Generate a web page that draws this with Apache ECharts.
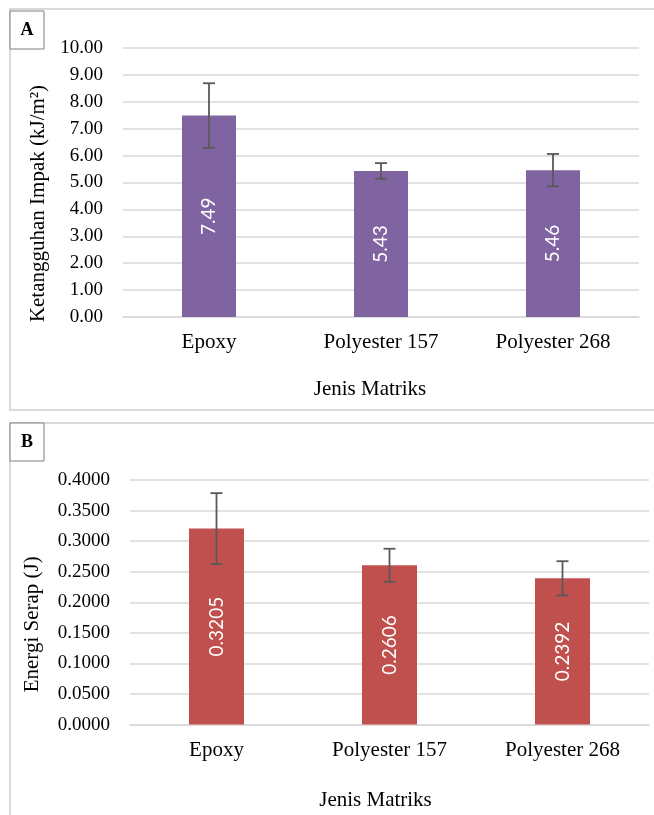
<!DOCTYPE html>
<html><head><meta charset="utf-8">
<script src="https://cdn.jsdelivr.net/npm/echarts@6/dist/echarts.min.js"></script>
<style>html,body{margin:0;padding:0;background:#fff}#c{width:654px;height:815px}</style>
</head><body><div id="c"></div>
<script>
const categories = ['Epoxy', 'Polyester 157', 'Polyester 268'];
const impactValues = [7.49, 5.43, 5.46];
const impactErrors = [1.20, 0.29, 0.60];
const energyValues = [0.3205, 0.2606, 0.2392];
const energyErrors = [0.058, 0.027, 0.028];
const impactTicks = {min: 0, max: 10, interval: 1};
const energyTicks = {min: 0, max: 0.4, interval: 0.05};

const serif = '"Liberation Serif", "Times New Roman", serif';
const chart = echarts.init(document.getElementById('c'));

function errSeries(vals, errs, xi, yi) {
  return {
    type: 'custom', xAxisIndex: xi, yAxisIndex: yi, z: 10,
    data: vals.map((v, i) => [i, v - errs[i], v + errs[i]]),
    renderItem: function (params, api) {
      const lo = api.coord([api.value(0), api.value(1)]);
      const hi = api.coord([api.value(0), api.value(2)]);
      const w = 6;
      const st = {stroke: '#595959', lineWidth: 1.8};
      return {type: 'group', children: [
        {type: 'line', shape: {x1: hi[0], y1: hi[1], x2: lo[0], y2: lo[1]}, style: st},
        {type: 'line', shape: {x1: hi[0] - w, y1: hi[1], x2: hi[0] + w, y2: hi[1]}, style: st},
        {type: 'line', shape: {x1: lo[0] - w, y1: lo[1], x2: lo[0] + w, y2: lo[1]}, style: st}
      ]};
    }
  };
}

const catAxis = (gi, namePad, gap) => ({
  type: 'category', gridIndex: gi, data: categories,
  axisLine: {lineStyle: {color: '#d9d9d9', width: 1.5}}, axisTick: {show: false},
  axisLabel: {color: '#000', fontFamily: serif, fontSize: 21, margin: 15},
  name: 'Jenis Matriks', nameLocation: 'middle', nameGap: gap,
  nameTextStyle: {color: '#000', fontFamily: serif, fontSize: 21, padding: namePad}
});

const dataLabel = (digits) => ({show: true, position: 'inside', rotate: 90, color: '#fff', fontSize: 19,
  fontFamily: 'Lato, "Open Sans", sans-serif', formatter: p => p.value.toFixed(digits)});

chart.setOption({
  animation: false,
  grid: [
    {left: 123, right: 15, top: 48, bottom: 815 - 317},
    {left: 130, right: 5, top: 480, bottom: 815 - 724.6}
  ],
  xAxis: [catAxis(0, [0, 22, 0, 0], 62), catAxis(1, [0, 28, 0, 0], 65)],
  yAxis: [
    {type: 'value', gridIndex: 0, min: impactTicks.min, max: impactTicks.max, interval: impactTicks.interval,
     axisLabel: {color: '#000', fontFamily: serif, fontSize: 19, margin: 20, formatter: v => v.toFixed(2)},
     splitLine: {lineStyle: {color: '#d9d9d9', width: 1.5}},
     name: 'Ketangguhan Impak (kJ/m²)', nameLocation: 'middle', nameGap: 68,
     nameTextStyle: {color: '#000', fontFamily: serif, fontSize: 21, padding: [0, 42, 0, 0]}},
    {type: 'value', gridIndex: 1, min: energyTicks.min, max: energyTicks.max, interval: energyTicks.interval,
     axisLabel: {color: '#000', fontFamily: serif, fontSize: 19, margin: 20, formatter: v => v.toFixed(4)},
     splitLine: {lineStyle: {color: '#d9d9d9', width: 1.5}},
     name: 'Energi Serap (J)', nameLocation: 'middle', nameGap: 87,
     nameTextStyle: {color: '#000', fontFamily: serif, fontSize: 21, padding: [0, 44, 0, 0]}}
  ],
  series: [
    {type: 'bar', xAxisIndex: 0, yAxisIndex: 0, data: impactValues, barWidth: 54,
     itemStyle: {color: '#8064A2'}, label: dataLabel(2)},
    errSeries(impactValues, impactErrors, 0, 0),
    {type: 'bar', xAxisIndex: 1, yAxisIndex: 1, data: energyValues, barWidth: 55,
     itemStyle: {color: '#C0504D'}, label: dataLabel(4)},
    errSeries(energyValues, energyErrors, 1, 1)
  ],
  graphic: [
    {type: 'rect', shape: {x: 10, y: 9, width: 660, height: 401}, style: {fill: 'none', stroke: '#d9d9d9', lineWidth: 2}, z: -1},
    {type: 'rect', shape: {x: 10, y: 423, width: 660, height: 420}, style: {fill: 'none', stroke: '#d9d9d9', lineWidth: 2}, z: -1},
    {type: 'rect', shape: {x: 10, y: 11, width: 34, height: 38}, style: {fill: '#fff', stroke: '#7f7f7f', lineWidth: 1}},
    {type: 'text', x: 27, y: 30, style: {text: 'A', fontFamily: serif, fontWeight: 'bold', fontSize: 18, fill: '#000', align: 'center', verticalAlign: 'middle'}},
    {type: 'rect', shape: {x: 10, y: 423, width: 34, height: 38}, style: {fill: '#fff', stroke: '#7f7f7f', lineWidth: 1}},
    {type: 'text', x: 27, y: 442, style: {text: 'B', fontFamily: serif, fontWeight: 'bold', fontSize: 18, fill: '#000', align: 'center', verticalAlign: 'middle'}}
  ]
});
</script></body></html>
